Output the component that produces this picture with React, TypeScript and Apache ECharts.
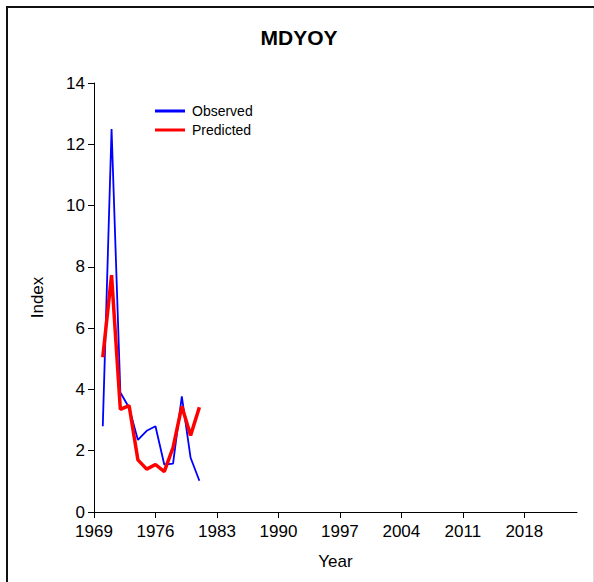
import React, { useEffect, useRef } from "react";
import * as echarts from "echarts";

const years = [1970, 1971, 1972, 1973, 1974, 1975, 1976, 1977, 1978, 1979, 1980, 1981];
const observed = [2.8, 12.5, 3.9, 3.4, 2.35, 2.65, 2.8, 1.55, 1.58, 3.77, 1.77, 1.02];
const predicted = [5.05, 7.73, 3.35, 3.47, 1.7, 1.4, 1.55, 1.32, 2.1, 3.45, 2.5, 3.42];
const xTicks = [1969, 1976, 1983, 1990, 1997, 2004, 2011, 2018];

const FONT = "'Liberation Sans', Arial, sans-serif";

export default function App() {
  const ref = useRef<HTMLDivElement>(null);
  useEffect(() => {
    if (!ref.current) return;
    const chart = echarts.init(ref.current, null, { renderer: "svg" });
    chart.setOption({
      animation: false,
      backgroundColor: "#ffffff",
      title: {
        text: "MDYOY",
        left: 299,
        top: 27,
        padding: 0,
        textAlign: "center",
        textStyle: { fontFamily: FONT, fontSize: 21, fontWeight: "bold", color: "#000" },
      },
      legend: {
        orient: "vertical",
        left: 155,
        top: 104,
        padding: 0,
        itemWidth: 30,
        itemHeight: 3,
        itemGap: 5,
        icon: "rect",
        textStyle: { fontFamily: FONT, fontSize: 14, color: "#000", padding: [0, 0, 0, 2] },
        data: ["Observed", "Predicted"],
      },
      grid: { left: 94, right: 17, top: 83, bottom: 70 },
      xAxis: {
        type: "value",
        min: 1969,
        max: 2024,
        name: "Year",
        nameLocation: "middle",
        nameGap: 41,
        nameTextStyle: { fontFamily: FONT, fontSize: 17, color: "#000" },
        axisLine: { lineStyle: { color: "#000", width: 1 } },
        axisTick: { show: true, length: 6, customValues: xTicks, lineStyle: { color: "#000" } },
        axisLabel: {
          customValues: xTicks,
          formatter: (v: number) => String(v),
          fontFamily: FONT,
          fontSize: 17,
          color: "#000",
          margin: 11,
        },
        splitLine: { show: false },
      },
      yAxis: {
        type: "value",
        min: 0,
        max: 14,
        interval: 2,
        name: "Index",
        nameLocation: "middle",
        nameGap: 48,
        nameRotate: 90,
        nameTextStyle: { fontFamily: FONT, fontSize: 17, color: "#000" },
        axisLine: { show: true, lineStyle: { color: "#000", width: 1 } },
        axisTick: { show: true, length: 6, lineStyle: { color: "#000" } },
        axisLabel: { fontFamily: FONT, fontSize: 17, color: "#000", margin: 9 },
        splitLine: { show: false },
      },
      series: [
        {
          name: "Observed",
          type: "line",
          data: years.map((y, i) => [y, observed[i]]),
          symbol: "none",
          lineStyle: { color: "#0000ff", width: 1.8 },
          itemStyle: { color: "#0000ff" },
        },
        {
          name: "Predicted",
          type: "line",
          data: years.map((y, i) => [y, predicted[i]]),
          symbol: "none",
          lineStyle: { color: "#ff0000", width: 3.5 },
          itemStyle: { color: "#ff0000" },
        },
      ],
      graphic: [
        {
          type: "polyline",
          shape: { points: [[7, 600], [7, 7], [600, 7]] },
          style: { stroke: "#111", lineWidth: 2, fill: "none" },
        },
        {
          type: "line",
          shape: { x1: 593.5, y1: 8, x2: 593.5, y2: 582 },
          style: { stroke: "#dddddd", lineWidth: 1 },
        },
      ],
    });
    return () => chart.dispose();
  }, []);
  return (
    <div
      ref={ref}
      style={{ position: "absolute", left: 0, top: 0, width: 594, height: 582 }}
    />
  );
}
